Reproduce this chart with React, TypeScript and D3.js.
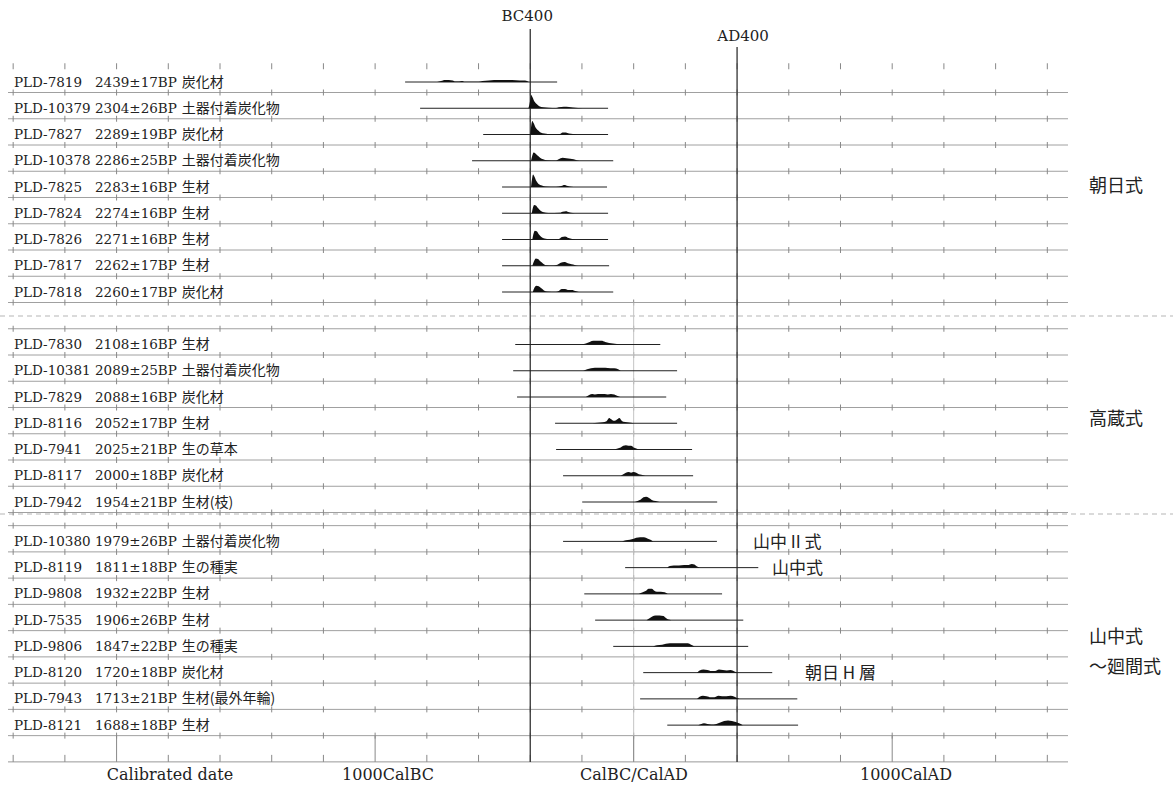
import { area, curveMonotoneX, range, scaleLinear } from "d3";

// sample labels, top to bottom
const sampleIds = [
  "PLD-7819", "PLD-10379", "PLD-7827", "PLD-10378", "PLD-7825", "PLD-7824", "PLD-7826", "PLD-7817", "PLD-7818",
  "PLD-7830", "PLD-10381", "PLD-7829", "PLD-8116", "PLD-7941", "PLD-8117", "PLD-7942",
  "PLD-10380", "PLD-8119", "PLD-9808", "PLD-7535", "PLD-9806", "PLD-8120", "PLD-7943", "PLD-8121",
];
const bpAges = [
  "2439±17BP", "2304±26BP", "2289±19BP", "2286±25BP", "2283±16BP", "2274±16BP", "2271±16BP", "2262±17BP", "2260±17BP",
  "2108±16BP", "2089±25BP", "2088±16BP", "2052±17BP", "2025±21BP", "2000±18BP", "1954±21BP",
  "1979±26BP", "1811±18BP", "1932±22BP", "1906±26BP", "1847±22BP", "1720±18BP", "1713±21BP", "1688±18BP",
];
const materials = [
  "炭化材", "土器付着炭化物", "炭化材", "土器付着炭化物", "生材", "生材", "生材", "生材", "炭化材",
  "生材", "土器付着炭化物", "炭化材", "生材", "生の草本", "炭化材", "生材(枝)",
  "土器付着炭化物", "生の種実", "生材", "生材", "生の種実", "炭化材", "生材(最外年輪)", "生材",
];

// plotted range of each sample (cal years, BC negative)
const rangeStart = [-884, -826, -582, -625, -509, -509, -509, -509, -509, -458, -466, -451, -304, -300, -273, -199, -273, -33, -191, -149, -79, 37, 25, 130];
const rangeEnd = [-296, -99, -99, -79, -103, -99, -99, -95, -79, 103, 168, 126, 168, 226, 230, 323, 322, 482, 342, 424, 443, 536, 633, 636];

// probability distributions: [cal year, relative probability]
const distributions: [number, number][][] = [
  [[-760, 0], [-745, 1], [-730, 2], [-715, 2], [-700, 1.5], [-690, 0.5], [-675, 0.5], [-665, 1], [-655, 0.3], [-600, 0.3], [-585, 1], [-560, 1.5], [-540, 2], [-500, 2], [-470, 2], [-440, 1.5], [-420, 1.5], [-405, 0]],
  [[-407, 0], [-400, 8], [-397, 13], [-392, 11], [-385, 7], [-375, 4], [-365, 2], [-350, 1], [-330, 0.5], [-300, 0.3], [-290, 1], [-270, 1.5], [-250, 1.2], [-235, 0.8], [-215, 0.3], [-180, 0]],
  [[-400, 0], [-396, 9], [-392, 13], [-387, 11], [-380, 7], [-370, 4], [-360, 2], [-345, 1], [-320, 0.3], [-285, 0.5], [-275, 2], [-262, 2], [-250, 1], [-235, 0.5], [-220, 0]],
  [[-397, 0], [-392, 5], [-387, 8], [-380, 7], [-372, 5], [-362, 3], [-350, 1.5], [-335, 0.5], [-300, 0.3], [-290, 1.5], [-275, 3], [-260, 2.5], [-245, 2], [-232, 1.5], [-220, 0.5], [-210, 0]],
  [[-397, 0], [-393, 8], [-389, 12], [-384, 10], [-377, 6], [-368, 3], [-355, 1.5], [-340, 0.5], [-300, 0.3], [-280, 1], [-268, 2], [-255, 1], [-240, 0.3], [-225, 0]],
  [[-394, 0], [-390, 5], [-385, 8], [-378, 7.5], [-370, 5], [-360, 2.5], [-348, 1], [-330, 0.3], [-285, 0.5], [-275, 1.5], [-262, 2], [-250, 1], [-235, 0.3], [-220, 0]],
  [[-392, 0], [-388, 5], [-382, 8.5], [-375, 8], [-367, 5], [-357, 2.5], [-345, 1], [-325, 0.3], [-290, 0.5], [-278, 2.5], [-265, 3], [-252, 1.5], [-238, 0.5], [-225, 0]],
  [[-392, 0], [-386, 4], [-378, 7], [-370, 6.5], [-360, 4], [-350, 2], [-338, 0.5], [-310, 0.3], [-295, 1], [-282, 3], [-268, 3.5], [-255, 2.5], [-240, 1.5], [-228, 0.8], [-215, 0]],
  [[-390, 0], [-384, 4], [-376, 6], [-367, 5.5], [-357, 3.5], [-347, 1.5], [-335, 0.5], [-300, 0.3], [-290, 1], [-278, 3], [-265, 3], [-252, 2], [-238, 2], [-226, 1], [-212, 0]],
  [[-200, 0], [-185, 1], [-170, 2.5], [-155, 3.5], [-140, 3.5], [-125, 3.5], [-110, 2.5], [-95, 1.5], [-80, 1], [-65, 0.5], [-52, 0]],
  [[-195, 0], [-180, 1.5], [-165, 2.5], [-150, 3], [-130, 3], [-110, 3], [-90, 2.5], [-75, 2.5], [-60, 1.5], [-50, 0]],
  [[-185, 0], [-172, 2], [-160, 3], [-150, 2.5], [-138, 3], [-125, 2.8], [-112, 3], [-100, 2.5], [-88, 3], [-75, 2.5], [-62, 1], [-52, 0]],
  [[-160, 0], [-140, 0.5], [-120, 1], [-105, 2], [-95, 5], [-88, 4], [-78, 2.5], [-68, 3], [-55, 5], [-48, 3], [-40, 1.5], [-25, 1], [-10, 0.5], [0, 0]],
  [[-75, 0], [-62, 1], [-50, 2], [-40, 3.5], [-30, 4], [-20, 3.5], [-10, 3.5], [0, 2], [10, 1], [20, 0]],
  [[-50, 0], [-40, 1.5], [-30, 3], [-20, 3.5], [-10, 3], [0, 3.5], [10, 3], [20, 1.5], [30, 1], [45, 0]],
  [[5, 0], [15, 1], [28, 2.5], [38, 4.5], [48, 5], [58, 4], [70, 2], [85, 1], [100, 0]],
  [[-45, 0], [-30, 1], [-15, 1.5], [0, 2.5], [10, 3.5], [25, 4], [40, 4], [55, 2.5], [65, 1.5], [75, 0]],
  [[130, 0], [140, 1.5], [155, 2], [175, 2], [195, 2.5], [210, 2.5], [225, 3.5], [235, 3], [245, 1], [255, 0]],
  [[20, 0], [35, 1.5], [48, 3], [58, 5], [70, 5], [80, 3], [90, 2], [105, 2], [120, 1.5], [132, 0]],
  [[50, 0], [60, 1.5], [72, 3.5], [85, 4.5], [100, 4.5], [115, 4], [125, 2], [135, 0.5], [145, 0]],
  [[75, 0], [90, 1], [110, 1.5], [125, 2.5], [140, 3], [165, 3], [190, 3], [210, 3], [222, 1.5], [235, 0]],
  [[245, 0], [255, 2], [270, 3], [285, 2.5], [300, 1.5], [315, 1.5], [330, 3], [345, 2.5], [360, 2], [375, 2.5], [390, 1], [400, 0]],
  [[245, 0], [255, 2], [268, 3], [282, 2.5], [298, 1.5], [312, 1.5], [328, 3], [342, 2.5], [358, 2.5], [375, 3], [390, 2], [402, 0.5], [410, 0]],
  [[250, 0], [262, 1], [272, 1.8], [285, 1], [300, 0.5], [320, 1.2], [335, 2.5], [350, 4], [365, 4.5], [380, 4], [395, 3], [410, 1.5], [422, 0]],
];

// pottery-type groups (rows per group) and their labels
const groupSizes = [9, 7, 8];
const groupLabels = [["朝日式"], ["高蔵式"], ["山中式", "～廻間式"]];

// marker lines and axis texts
const markerYears = [-400, 400];
const markerLabels = ["BC400", "AD400"];
const axisLabels = ["Calibrated date", "1000CalBC", "CalBC/CalAD", "1000CalAD"];

export default function App() {
  const width = 1173;
  const height = 793;
  const pitch = 26.25;
  const top = 82;
  const groupStartSlot = [0, 10, 17.5];

  const x = scaleLinear().domain([-2420, 1680]).range([8, 1068]);
  const h = scaleLinear().domain([0, 13]).range([0, 13.5]);
  const slotY = (s: number) => top + s * pitch;

  const rowY: number[] = [];
  const groupOf: number[] = [];
  groupSizes.forEach((n, g) => {
    for (let i = 0; i < n; i++) {
      rowY.push(slotY(groupStartSlot[g] + i));
      groupOf.push(g);
    }
  });

  // grid lines: one above each group, one below each row
  const gridYs: number[] = [];
  groupSizes.forEach((_, g) => gridYs.push(slotY(groupStartSlot[g] - 1) + 10.5));
  rowY.forEach((y) => gridYs.push(y + 10.5));
  const firstTop = gridYs[0];
  const axisY = slotY(25.5) + 10.5;
  const tickYears = range(-2400, 1601, 200);
  const separatorYs = [316, 514];

  const makeArea = (y0: number) =>
    area<[number, number]>()
      .x((d) => x(d[0]))
      .y0(y0)
      .y1((d) => y0 - h(d[1]))
      .curve(curveMonotoneX);

  const serif = "'DejaVu Serif', 'Noto Sans CJK JP', serif";
  const jp = "'Noto Sans CJK JP', 'DejaVu Serif', serif";

  const groupLabelSlots = [[3.9], [12.75], [21.07, 22.2]];
  const annotations = [
    { row: 16, x: 753, text: "山中 II 式" },
    { row: 17, x: 772, text: "山中式" },
    { row: 21, x: 805, text: "朝日 H 層" },
  ];
  const axisLabelX = [170, 388, 634, 906];
  const markerTop = [29, 47];
  const markerLabelY = [16, 36];

  return (
    <svg
      width={width}
      height={height}
      viewBox={`0 0 ${width} ${height}`}
      style={{ position: "absolute", left: 0, top: 0, background: "#fff" }}
    >
      <rect width={width} height={height} fill="#ffffff" />

      {/* separators between groups */}
      {separatorYs.map((y) => (
        <line key={y} x1={0} x2={width} y1={y} y2={y} stroke="#b5b5b5" strokeWidth="1" strokeDasharray="5 4" />
      ))}

      {/* grid lines with tick marks */}
      {gridYs.map((y, i) => (
        <g key={i}>
          {y !== firstTop ? (
            <line x1={8} x2={1068} y1={y} y2={y} stroke="#a0a0a0" strokeWidth="1" />
          ) : null}
          {tickYears.map((t) => (
            <line key={t} x1={x(t)} x2={x(t)} y1={y - 3} y2={y + 3} stroke="#888" strokeWidth="1" />
          ))}
        </g>
      ))}

      {/* faint zero line */}
      <line x1={x(0)} x2={x(0)} y1={gridYs[groupSizes.length + 8]} y2={axisY} stroke="#c4c4c4" strokeWidth="1" />

      {/* bottom axis */}
      <line x1={8} x2={1068} y1={axisY} y2={axisY} stroke="#999" strokeWidth="1" />
      {tickYears.map((t) => (
        <line
          key={t}
          x1={x(t)}
          x2={x(t)}
          y1={t % 1000 === 0 ? rowY[rowY.length - 1] + 10.5 : axisY - 7}
          y2={axisY}
          stroke="#888"
          strokeWidth="1"
        />
      ))}

      {/* BC400 / AD400 marker lines */}
      {markerYears.map((yr, i) => (
        <g key={yr}>
          <line x1={x(yr)} x2={x(yr)} y1={markerTop[i]} y2={axisY} stroke="#333" strokeWidth="1.3" />
          <text
            x={x(yr) + (i === 0 ? -3 : 6)}
            y={markerLabelY[i]}
            textAnchor="middle"
            dominantBaseline="central"
            fontFamily={serif}
            fontSize="15"
            fill="#222"
          >
            {markerLabels[i]}
          </text>
        </g>
      ))}

      {/* samples */}
      {sampleIds.map((id, i) => {
        const y = rowY[i];
        return (
          <g key={id}>
            <line x1={x(rangeStart[i])} x2={x(rangeEnd[i])} y1={y} y2={y} stroke="#222" strokeWidth="1" />
            <path d={makeArea(y)(distributions[i]) ?? ""} fill="#111" />
            <text x={14} y={y + 4.5} fontFamily={serif} fontSize="13.5" fill="#222">
              {id}
            </text>
            <text x={95} y={y + 4.5} fontFamily={serif} fontSize="13.5" fill="#222">
              {bpAges[i]}
              <tspan dx="5" fontFamily={jp} fontSize="14">
                {materials[i]}
              </tspan>
            </text>
          </g>
        );
      })}

      {/* annotations */}
      {annotations.map((a) => (
        <text
          key={a.text}
          x={a.x}
          y={rowY[a.row] - 1}
          dominantBaseline="central"
          fontFamily={jp}
          fontSize="17"
          fill="#222"
        >
          {a.text}
        </text>
      ))}

      {/* group labels */}
      {groupLabels.map((lines, g) =>
        lines.map((t, k) => (
          <text
            key={t}
            x={1089}
            y={slotY(groupLabelSlots[g][k])}
            dominantBaseline="central"
            fontFamily={jp}
            fontSize="18"
            fill="#222"
          >
            {t}
          </text>
        ))
      )}

      {/* axis texts */}
      {axisLabels.map((t, i) => (
        <text
          key={t}
          x={axisLabelX[i]}
          y={780}
          textAnchor="middle"
          fontFamily={serif}
          fontSize="16"
          fill="#222"
        >
          {t}
        </text>
      ))}
    </svg>
  );
}
